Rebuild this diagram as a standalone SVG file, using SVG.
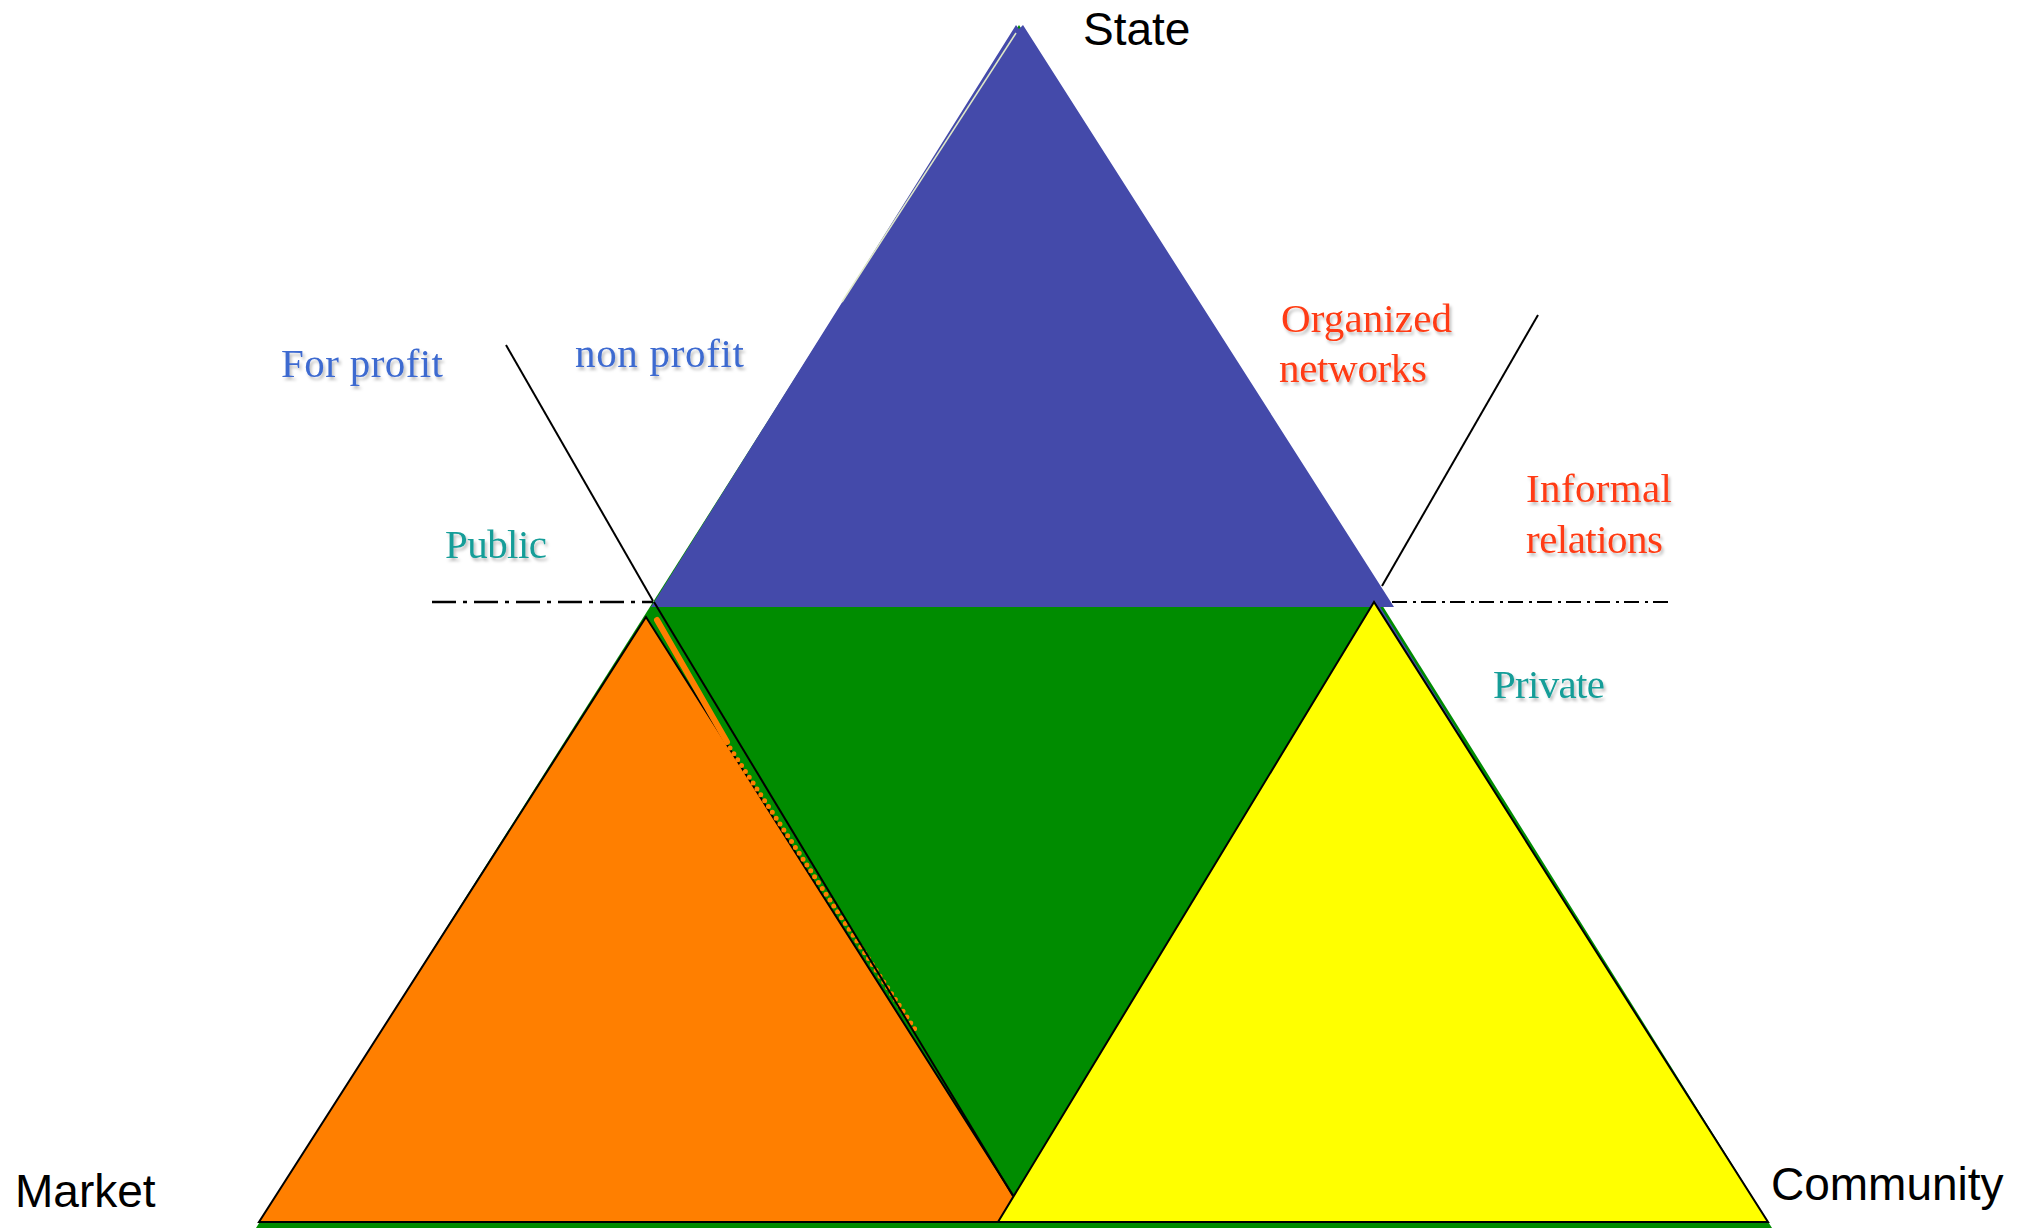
<svg xmlns="http://www.w3.org/2000/svg" width="2027" height="1228" viewBox="0 0 2027 1228">
<defs>
<filter id="sh" x="-10%" y="-20%" width="130%" height="160%">
<feDropShadow dx="2" dy="3" stdDeviation="1.5" flood-color="#000" flood-opacity="0.25"/>
</filter>
</defs>
<style>
.lbl{font-family:"Liberation Sans",Arial,sans-serif;font-size:46px;fill:#000}
.ser{font-family:"Liberation Serif","Times New Roman",serif;font-size:41px;filter:url(#sh)}
.blue{fill:#3d6ad0}
.teal{fill:#139d98}
.red{fill:#ff3b12}
.edge{stroke:#000;stroke-width:2;stroke-linejoin:miter}
</style>
<rect width="2027" height="1228" fill="#fff"/>
<g id="base-green">
<polygon points="1019,25 256,1228 1772,1228" fill="#008c00"/>
</g>
<g id="state-region">
<polygon points="1016,25 1019,29 1023,25 1394,607 651,607" fill="#444aaa"/>
<line x1="1016" y1="33" x2="842" y2="302" stroke="#dfe8c8" stroke-width="1.5"/>
<line x1="1376" y1="604" x2="1458" y2="735" stroke="#444aaa" stroke-width="4"/>
</g>
<g id="market-region">
<polygon class="edge" points="646,617 259,1222 1030,1222" fill="#ff7f00"/>
<line x1="657" y1="620" x2="727" y2="742" stroke="#ff7f00" stroke-width="6" stroke-linecap="round"/>
<line x1="730" y1="748" x2="918" y2="1034" stroke="#ff7f00" stroke-width="5" stroke-linecap="round" stroke-dasharray="0 7"/>
</g>
<g id="green-edge">
<line x1="654" y1="602" x2="1013" y2="1196" stroke="#000" stroke-width="2"/>
</g>
<g id="community-region">
<polygon class="edge" points="1374,602 998,1222 1768,1222" fill="#ffff00"/>
</g>
<g id="connectors" fill="none" stroke="#000">
<line x1="506" y1="345" x2="653" y2="601" stroke-width="2"/>
<line x1="1538" y1="315" x2="1382" y2="586" stroke-width="2"/>
<line x1="432" y1="602" x2="653" y2="602" stroke-width="2.5" stroke-dasharray="24 7 4 7"/>
<line x1="1392" y1="602" x2="1668" y2="602" stroke-width="2" stroke-dasharray="15 6 3 5"/>
</g>
<g id="state-label"><text class="lbl" x="1083" y="45">State</text></g>
<g id="market-label"><text class="lbl" x="15" y="1207">Market</text></g>
<g id="community-label"><text class="lbl" x="1771" y="1200">Community</text></g>
<g id="for-profit"><text class="ser blue" x="281" y="377" textLength="162">For profit</text></g>
<g id="non-profit"><text class="ser blue" x="575" y="367" textLength="169">non profit</text></g>
<g id="public"><text class="ser teal" x="445" y="558" textLength="102">Public</text></g>
<g id="organized-networks"><text class="ser red" x="1281" y="332" textLength="171">Organized</text><text class="ser red" x="1279" y="382" textLength="148">networks</text></g>
<g id="informal-relations"><text class="ser red" x="1526" y="502" textLength="146">Informal</text><text class="ser red" x="1526" y="553" textLength="137">relations</text></g>
<g id="private"><text class="ser teal" x="1493" y="698" textLength="112">Private</text></g>
</svg>
